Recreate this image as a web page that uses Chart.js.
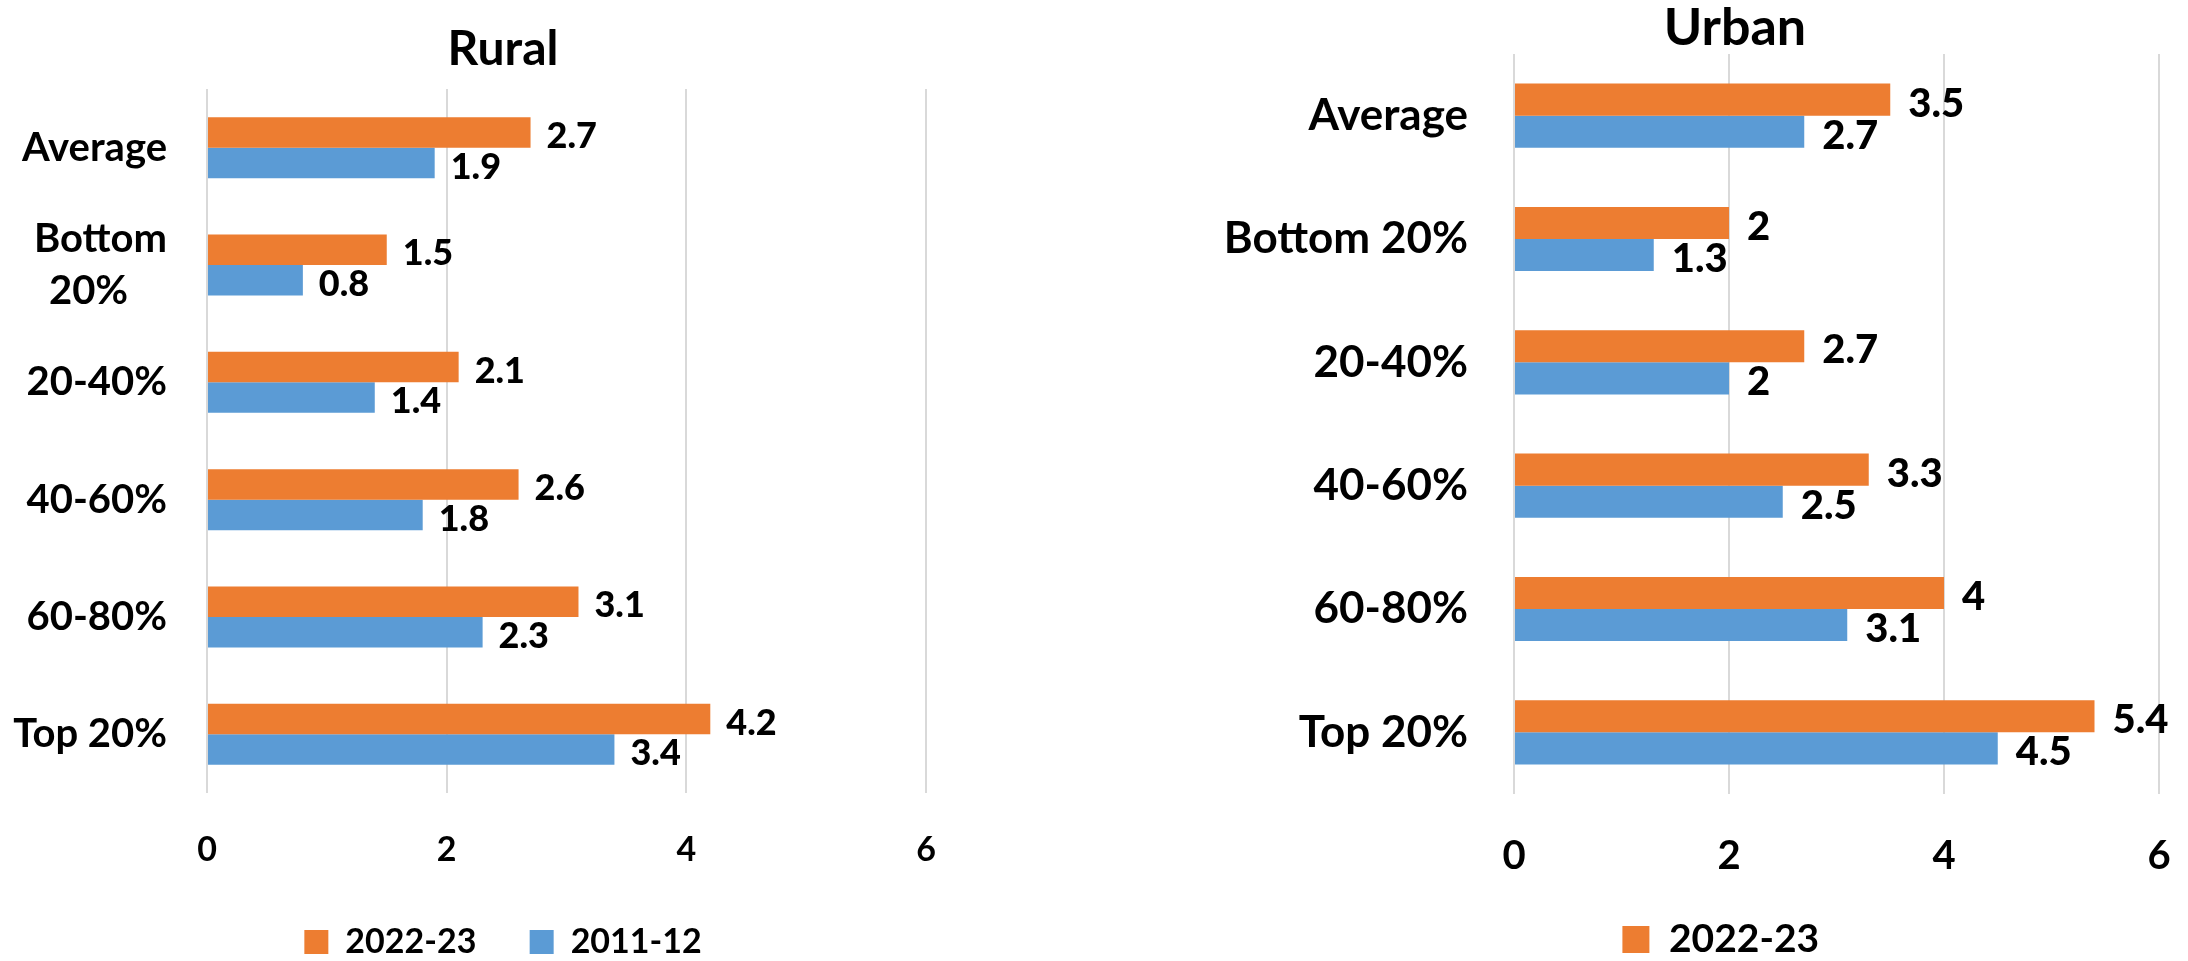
<!DOCTYPE html>
<html>
<head>
<meta charset="utf-8">
<script src="https://cdn.jsdelivr.net/npm/chart.js@4.4.1/dist/chart.umd.min.js"></script>
<style>
  html, body { margin: 0; padding: 0; background: #fff; overflow: hidden; }
  body { width: 2188px; height: 961px; position: relative; }
  canvas { position: absolute; top: 0; }
  #rural { left: 0; }
  #urban { left: 1160px; }
</style>
</head>
<body>
<canvas id="rural" width="1006" height="961"></canvas>
<canvas id="urban" width="1060" height="961"></canvas>
<script>
const ruralLabels = ['Average', ['Bottom', '20%    '], '20-40%', '40-60%', '60-80%', 'Top 20%']
const urbanLabels = ['Average', 'Bottom 20%', '20-40%', '40-60%', '60-80%', 'Top 20%']
const seriesNames = ['2022-23', '2011-12']
const rural2022 = [2.7, 1.5, 2.1, 2.6, 3.1, 4.2]
const rural2011 = [1.9, 0.8, 1.4, 1.8, 2.3, 3.4]
const urban2022 = [3.5, 2, 2.7, 3.3, 4, 5.4]
const urban2011 = [2.7, 1.3, 2, 2.5, 3.1, 4.5]
const xTicks = [0, 2, 4, 6]

const ORANGE = '#ED7D31'
const BLUE = '#5B9BD5'
const FONT = 'Lato, "Open Sans", sans-serif'

// etiquetas de valor al final de cada barra
const valueLabels = {
    id: 'valueLabels',
    afterDatasetsDraw(chart, args, opts) {
        const ctx = chart.ctx
        ctx.save()
        ctx.fillStyle = '#000'
        ctx.font = '900 ' + opts.size + 'px ' + FONT
        ctx.textAlign = 'left'
        ctx.textBaseline = 'middle'
        chart.data.datasets.forEach((ds, i) => {
            const meta = chart.getDatasetMeta(i)
            meta.data.forEach((bar, j) => {
                ctx.fillText(String(ds.data[j]), bar.x + opts.gap, bar.y + 4)
            })
        })
        ctx.restore()
    }
}

// las etiquetas del eje y pueden salir del recuadro del eje (no recortar)
const unclipYLabels = {
    id: 'unclipYLabels',
    afterLayout(chart) {
        chart.scales.y.left = 0
    }
}

function makeChart(id, title, labels, d2022, d2011, cfg) {
    return new Chart(document.getElementById(id), {
        type: 'bar',
        data: {
            labels: labels,
            datasets: [
                { label: seriesNames[0], data: d2022, backgroundColor: ORANGE },
                { label: seriesNames[1], data: d2011, backgroundColor: BLUE }
            ]
        },
        plugins: [valueLabels, unclipYLabels],
        options: {
            indexAxis: 'y',
            responsive: false,
            animation: false,
            categoryPercentage: 0.52,
            barPercentage: 1,
            layout: { padding: { left: cfg.padLeft, right: cfg.padRight, top: 0, bottom: cfg.padBottom } },
            scales: {
                x: {
                    min: 0,
                    max: 6,
                    afterBuildTicks(scale) {
                        scale.ticks = xTicks.map(v => ({ value: v }))
                    },
                    afterFit(scale) { scale.height = cfg.xHeight },
                    grid: { color: '#D9D9D9', lineWidth: 2, drawTicks: false },
                    border: { display: false },
                    ticks: {
                        color: '#000',
                        padding: cfg.tickPad,
                        font: { family: FONT, size: cfg.tickSize, weight: 'bold' }
                    }
                },
                y: {
                    afterFit(scale) {
                        scale.width = cfg.yWidth
                        scale.paddingTop = 0
                        scale.paddingBottom = 0
                    },
                    grid: { display: false, drawTicks: false },
                    border: { display: false },
                    ticks: {
                        color: '#000',
                        padding: cfg.yPad,
                        font: { family: FONT, size: cfg.catSize, weight: 'bold', lineHeight: 1.3 }
                    }
                }
            },
            plugins: {
                title: {
                    display: true,
                    text: title,
                    color: '#000',
                    font: { family: FONT, size: cfg.titleSize, weight: 'bold', lineHeight: 1 },
                    padding: { top: cfg.titleTop, bottom: cfg.titleBottom }
                },
                legend: {
                    position: 'bottom',
                    labels: {
                        color: '#000',
                        boxWidth: cfg.box,
                        boxHeight: cfg.box,
                        padding: 12,
                        font: { family: FONT, size: cfg.legendSize, weight: 'bold', lineHeight: 1 },
                        generateLabels(chart) {
                            const items = Chart.defaults.plugins.legend.labels.generateLabels(chart)
                            return items
                                .filter(item => cfg.legendItems.includes(item.datasetIndex))
                                .map((item, k) => {
                                    // espacio extra tras el primer elemento, como en el original
                                    if (k === 0) item.text = item.text + ' '.repeat(cfg.legendGap)
                                    return item
                                })
                        }
                    }
                },
                tooltip: { enabled: false },
                valueLabels: { size: cfg.valueSize, gap: cfg.gap }
            }
        }
    })
}

makeChart('rural', 'Rural', ruralLabels, rural2022, rural2011, {
    padLeft: 80, padRight: 80, padBottom: -8, xHeight: 120, tickPad: 37, tickSize: 34,
    yWidth: 127, yPad: 40, catSize: 40, titleSize: 48, titleTop: 26, titleBottom: 15,
    box: 24, legendSize: 34, legendItems: [0, 1], legendGap: 5, valueSize: 36, gap: 16
})

makeChart('urban', 'Urban', urbanLabels, urban2022, urban2011, {
    padLeft: 151, padRight: 61, padBottom: -8, xHeight: 114, tickPad: 38, tickSize: 40,
    yWidth: 203, yPad: 46, catSize: 44, titleSize: 52, titleTop: 2, titleBottom: 0,
    box: 27, legendSize: 39, legendItems: [0], legendGap: 3, valueSize: 40, gap: 18
})
</script>
</body>
</html>
